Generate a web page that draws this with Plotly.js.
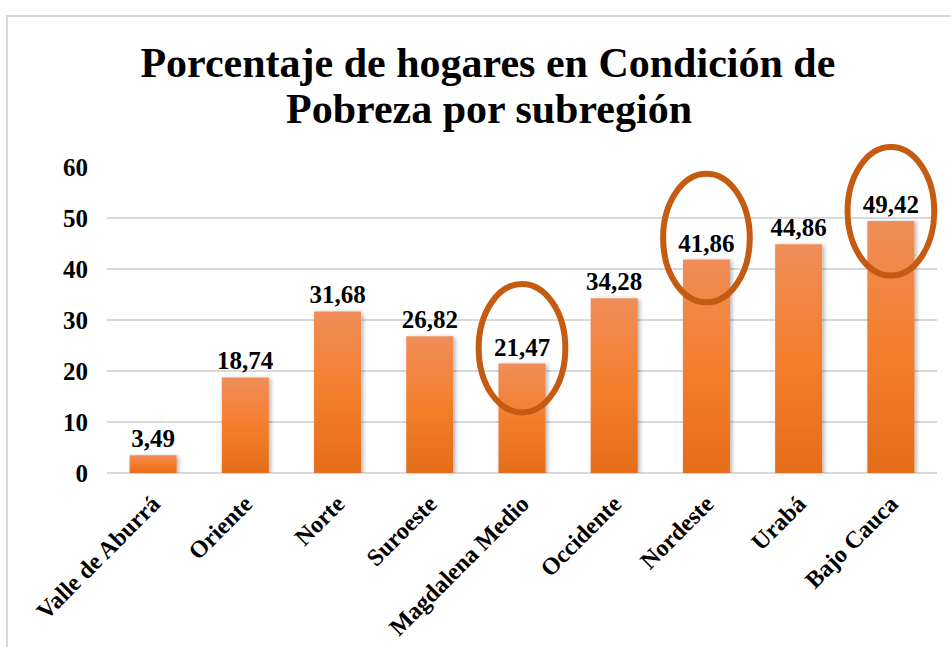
<!DOCTYPE html>
<html>
<head>
<meta charset="utf-8">
<script src="https://cdn.plot.ly/plotly-3.0.1.min.js"></script>
<style>
  html, body { margin: 0; padding: 0; background: #fff; }
  #frame { position: absolute; left: 6px; top: 15px; width: 1000px; height: 700px;
           border: 2px solid #d9d9d9; box-sizing: border-box; }
  #chart { position: absolute; left: 0; top: 0; width: 951px; height: 647px; }
</style>
</head>
<body>
<div id="frame"></div>
<div id="chart"></div>
<script>
// data
var subregiones = ['Valle de Aburrá', 'Oriente', 'Norte', 'Suroeste', 'Magdalena Medio',
                   'Occidente', 'Nordeste', 'Urabá', 'Bajo Cauca'];
var pobreza = [3.49, 18.74, 31.68, 26.82, 21.47, 34.28, 41.86, 44.86, 49.42];
var yTicks = [0, 10, 20, 30, 40, 50, 60];

// subregions circled in the original, with how far above the value the ring sits
var resaltadas = ['Magdalena Medio', 'Nordeste', 'Bajo Cauca'];
var desplazamiento = [3.0, 4.2, 1.9];

var serif = '"Liberation Serif", "Times New Roman", serif';
var yMax = 60;

// ellipses in paper coords so they are not clipped at the top of the plot area
var shapes = resaltadas.map(function (name, k) {
    var i = subregiones.indexOf(name);
    var cx = (i + 0.5) / subregiones.length;
    var cy = (pobreza[i] + desplazamiento[k]) / yMax;
    return {
        type: 'circle', xref: 'paper', yref: 'paper',
        x0: cx - 0.47 / subregiones.length, x1: cx + 0.47 / subregiones.length,
        y0: cy - 12.6 / yMax, y1: cy + 12.6 / yMax,
        line: {color: '#c55a11', width: 6},
        layer: 'above'
    };
});

var trace = {
    x: subregiones,
    y: pobreza,
    type: 'bar',
    marker: {color: '#f07f2f'},
    texttemplate: '%{y:.2f}',
    textposition: 'outside',
    constraintext: 'none',
    cliponaxis: false,
    textfont: {family: serif, size: 25, color: '#000', weight: 'bold'},
    hoverinfo: 'x+y'
};

var layout = {
    width: 951,
    height: 647,
    margin: {l: 107, r: 14, t: 167, b: 174},
    paper_bgcolor: 'rgba(0,0,0,0)',
    plot_bgcolor: 'rgba(0,0,0,0)',
    separators: ',.',
    bargap: 0.49,
    showlegend: false,
    font: {family: serif, color: '#000'},
    title: {
        text: 'Porcentaje de hogares en Condición de',
        font: {family: serif, size: 42, color: '#000', weight: 'bold'},
        x: 0.513, xanchor: 'center',
        y: 1 - 62 / 647, yanchor: 'middle', yref: 'container'
    },
    annotations: [{
        text: 'Pobreza por subregión',
        xref: 'paper', yref: 'paper',
        x: (489 - 107) / 830, y: 1 + (167 - 109) / 306,
        xanchor: 'center', yanchor: 'middle',
        showarrow: false,
        font: {family: serif, size: 42, color: '#000', weight: 'bold'}
    }],
    xaxis: {
        type: 'category',
        tickangle: -45,
        tickfont: {family: serif, size: 24, color: '#000', weight: 'bold'},
        ticklabelstandoff: 11,
        showline: false,
        showgrid: false
    },
    yaxis: {
        range: [0, yMax],
        tickvals: yTicks,
        tickfont: {family: serif, size: 25, color: '#000', weight: 'bold'},
        ticklabelstandoff: 18,
        gridcolor: '#d9d9d9',
        gridwidth: 2,
        zeroline: true,
        zerolinecolor: '#d9d9d9',
        zerolinewidth: 2,
        showline: false
    },
    shapes: shapes
};

Plotly.newPlot('chart', [trace], layout, {displayModeBar: false, staticPlot: true}).then(function (gd) {
    // vertical gradient + soft shadow on the bars, like the office chart
    var svgNS = 'http://www.w3.org/2000/svg';
    var svg = gd.querySelector('svg.main-svg');
    var defs = svg.querySelector('defs') || svg.insertBefore(document.createElementNS(svgNS, 'defs'), svg.firstChild);

    var grad = document.createElementNS(svgNS, 'linearGradient');
    grad.setAttribute('id', 'barGrad');
    grad.setAttribute('x1', '0'); grad.setAttribute('y1', '0');
    grad.setAttribute('x2', '0'); grad.setAttribute('y2', '1');
    [['0', '#f08d59'], ['0.5', '#f37f2d'], ['1', '#e46c1b']].forEach(function (s) {
        var stop = document.createElementNS(svgNS, 'stop');
        stop.setAttribute('offset', s[0]);
        stop.setAttribute('stop-color', s[1]);
        grad.appendChild(stop);
    });
    defs.appendChild(grad);

    var filt = document.createElementNS(svgNS, 'filter');
    filt.setAttribute('id', 'barShadow');
    filt.setAttribute('x', '-20%'); filt.setAttribute('y', '-5%');
    filt.setAttribute('width', '140%'); filt.setAttribute('height', '115%');
    var ds = document.createElementNS(svgNS, 'feDropShadow');
    ds.setAttribute('dx', '2'); ds.setAttribute('dy', '1');
    ds.setAttribute('stdDeviation', '2');
    ds.setAttribute('flood-color', '#000');
    ds.setAttribute('flood-opacity', '0.3');
    filt.appendChild(ds);
    defs.appendChild(filt);

    gd.querySelectorAll('.barlayer .point path').forEach(function (p) {
        p.style.fill = 'url(#barGrad)';
        p.setAttribute('filter', 'url(#barShadow)');
    });
});
</script>
</body>
</html>
